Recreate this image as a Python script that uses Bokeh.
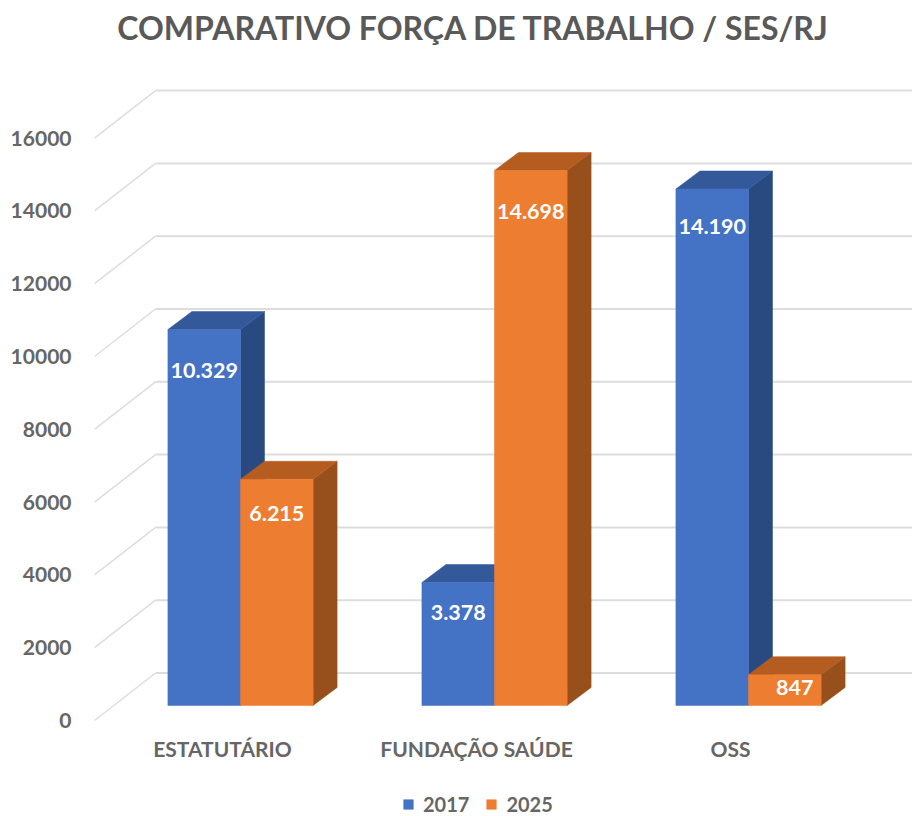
from bokeh.plotting import figure
from bokeh.models import Range1d, LinearAxis, FixedTicker, Legend, LegendItem, ColumnDataSource
from bokeh.core.properties import value
from bokeh.embed import file_html
from bokeh.resources import INLINE

# ---- data
title_text = "COMPARATIVO FORÇA DE TRABALHO / SES/RJ"
categories = ["ESTATUTÁRIO", "FUNDAÇÃO SAÚDE", "OSS"]
series_names = ["2017", "2025"]
values_2017 = [10329, 3378, 14190]
values_2025 = [6215, 14698, 847]
labels_2017 = ["10.329", "3.378", "14.190"]
labels_2025 = ["6.215", "14.698", "847"]
y_ticks = [0, 2000, 4000, 6000, 8000, 10000, 12000, 14000, 16000]

# ---- layout (pixels of the page and what one unit is worth)
W, H = 912, 816
FRAME_LEFT = 94
PX_PER_CAT = 254.0
PX_PER_VAL = 0.0364
ZERO_ROW = 720.0      # page row of value 0 on the axis plane
CAT0_COL = 222.0      # page column of first category label
def dx(px): return px / PX_PER_CAT
def dy(px): return px / PX_PER_VAL
def col(px): return (px - CAT0_COL) / PX_PER_CAT
def row(px): return (ZERO_ROW - px) / PX_PER_VAL

FONT = "Lato"
GREY = "#595959"
GRID = "#DDDDDD"
BLUE = ("#4472C4", "#33599A", "#294A80")
ORANGE = ("#ED7D31", "#B55D21", "#974F1B")

p = figure(width=W, height=H, output_backend="svg", toolbar_location=None,
           x_axis_type=None, y_axis_type=None,
           x_range=Range1d(col(FRAME_LEFT), col(W)), y_range=Range1d(row(H), row(0)),
           min_border_left=FRAME_LEFT, min_border_right=0, min_border_top=0, min_border_bottom=0,
           outline_line_color=None, margin=(0, 0, 0, 0))
p.grid.visible = False

# value axis
ya = LinearAxis(ticker=FixedTicker(ticks=y_ticks), axis_line_color=None,
                major_tick_line_color=None, minor_tick_line_color=None,
                major_tick_in=0, major_tick_out=0, major_label_standoff=23,
                major_label_text_font=FONT, major_label_text_font_size="21px",
                major_label_text_font_style="bold", major_label_text_color="#666666")
p.add_layout(ya, "left")

# category axis
xa = LinearAxis(ticker=FixedTicker(ticks=[0, 1, 2]),
                major_label_overrides={i: c for i, c in enumerate(categories)},
                axis_line_color=None, major_tick_line_color=None, minor_tick_line_color=None,
                major_tick_in=0, major_tick_out=0, major_label_standoff=5,
                major_label_text_font=FONT, major_label_text_font_size="21px",
                major_label_text_font_style="bold", major_label_text_color="#666666",
                fixed_location=row(730))
p.add_layout(xa, "below")

# back wall grid and its slanted returns
WALL_DX, WALL_DY = dx(61), dy(47.5)
front_x = col(FRAME_LEFT)
p.segment(x0=[front_x] * len(y_ticks), y0=y_ticks,
          x1=[front_x + WALL_DX] * len(y_ticks), y1=[v + WALL_DY for v in y_ticks],
          line_color=GRID, line_width=1.5)
p.segment(x0=[front_x + WALL_DX] * len(y_ticks), y0=[v + WALL_DY for v in y_ticks],
          x1=[col(W)] * len(y_ticks), y1=[v + WALL_DY for v in y_ticks],
          line_color=GRID, line_width=2)

# 3D bars
BASE = dy(ZERO_ROW - 705)
BAR_W = dx(72.6)
DEP_X, DEP_Y = dx(24), dy(18)
BAR_SHIFT = dx(18)
legend_refs = {}
for i in range(len(categories)):
    for s, (vals, colors) in enumerate(((values_2017, BLUE), (values_2025, ORANGE))):
        x0 = i + BAR_SHIFT + (s - 1) * BAR_W
        x1 = x0 + BAR_W
        top = BASE + vals[i]
        p.patch([x1, x1 + DEP_X, x1 + DEP_X, x1], [BASE, BASE + DEP_Y, top + DEP_Y, top],
                fill_color=colors[2], line_color=colors[2], line_width=0.5)
        p.patch([x0, x0 + DEP_X, x1 + DEP_X, x1], [top, top + DEP_Y, top + DEP_Y, top],
                fill_color=colors[1], line_color=colors[1], line_width=0.5)
        legend_refs[s] = p.patch([x0, x1, x1, x0], [BASE, BASE, top, top],
                                 fill_color=colors[0], line_color=colors[0], line_width=0.5)

# data labels (drop below bar top in px, sideways shift in px)
drop_2017 = [41, 30, 38]
drop_2025 = [34, 41, 13]
shift_2025 = [0, 0, 10]
lab_x, lab_y, lab_t = [], [], []
for i in range(len(categories)):
    lab_x.append(i + BAR_SHIFT - BAR_W / 2)
    lab_y.append(BASE + values_2017[i] - dy(drop_2017[i]))
    lab_t.append(labels_2017[i])
    lab_x.append(i + BAR_SHIFT + BAR_W / 2 + dx(shift_2025[i]))
    lab_y.append(BASE + values_2025[i] - dy(drop_2025[i]))
    lab_t.append(labels_2025[i])
p.text(x="x", y="y", text="t", source=ColumnDataSource(dict(x=lab_x, y=lab_y, t=lab_t)),
       text_color="white", text_font=value(FONT), text_font_style="bold",
       text_font_size="21.5px", text_align="center", text_baseline="middle")

# title
p.text(x=[col(473)], y=[row(27)], text=[title_text], text_color=GREY,
       text_font=value(FONT), text_font_style="bold", text_font_size="32px",
       text_align="center", text_baseline="middle")

# legend
legend = Legend(items=[LegendItem(label=series_names[0], renderers=[legend_refs[0]]),
                       LegendItem(label=series_names[1], renderers=[legend_refs[1]])],
                orientation="horizontal", location=(402 - FRAME_LEFT, 0),
                border_line_color=None, background_fill_alpha=0,
                glyph_width=12, glyph_height=12, label_standoff=9, spacing=16,
                padding=0, margin=0,
                label_text_font=FONT, label_text_font_size="20px",
                label_text_font_style="bold", label_text_color="#666666")
p.add_layout(legend, "center")

open("out.html", "w").write(file_html(p, INLINE))
